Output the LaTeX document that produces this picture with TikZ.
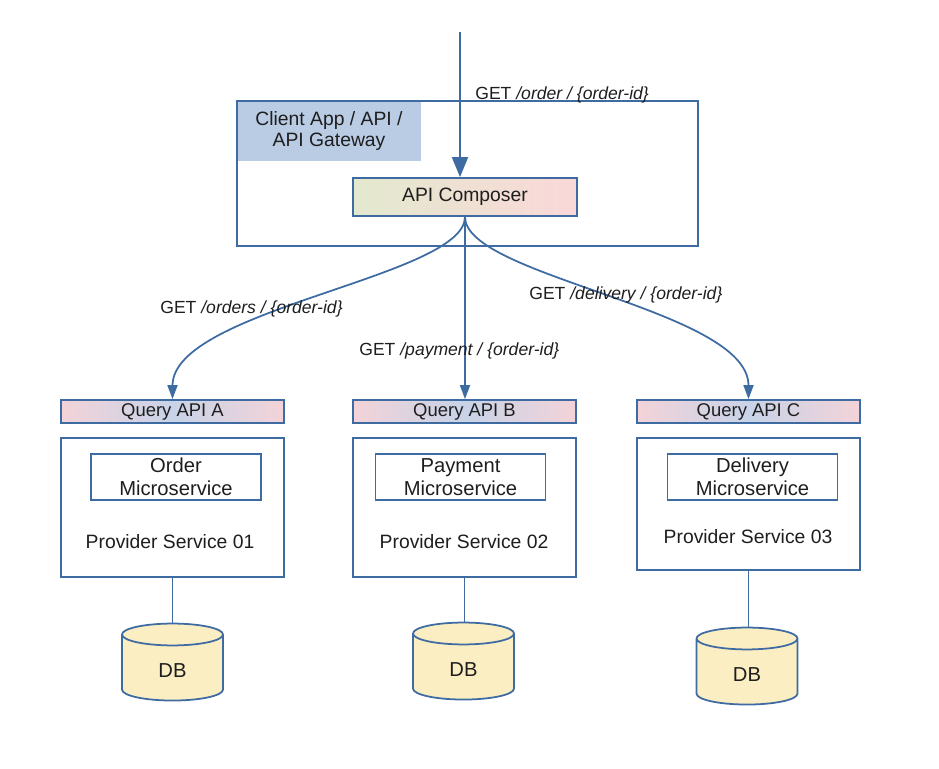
\documentclass[tikz,border=0pt]{standalone}
\usepackage{fontspec}
\setmainfont{Liberation Sans}
\usetikzlibrary{shapes.geometric,arrows.meta}

\definecolor{lineblue}{HTML}{3F6BA3}
\definecolor{clientfill}{HTML}{B9CCE4}
\definecolor{dbfill}{HTML}{FBEEC2}
\definecolor{composerleft}{HTML}{E3E9CE}
\definecolor{composerright}{HTML}{FAD8D8}
\definecolor{queryedge}{HTML}{F3D3D8}
\definecolor{querymid}{HTML}{C8D3E8}
\definecolor{textgray}{HTML}{1E1E1E}

\tikzset{
	box/.style={draw=lineblue, line width=1pt, minimum width=4.46cm, inner sep=0pt},
	querybox/.style={box, minimum height=0.46cm, left color=queryedge, right color=queryedge, middle color=querymid, font=\fontsize{10.5}{12}\selectfont},
	providerbox/.style={box},
	microbox/.style={draw=lineblue, line width=1pt, minimum width=3.4cm, minimum height=0.92cm, align=center, inner sep=0pt, font=\fontsize{11.5}{13}\selectfont},
	dbnode/.style={cylinder, shape border rotate=90, aspect=0.55, draw=lineblue, line width=1pt, fill=dbfill, minimum width=2.02cm, minimum height=1.54cm, font=\fontsize{11.5}{13}\selectfont},
	boxtext/.style={font=\fontsize{11}{13}\selectfont},
	getlabel/.style={anchor=west, inner sep=0pt, font=\fontsize{10}{12}\selectfont},
	arr/.style={draw=lineblue, line width=1pt, -{Triangle[length=0.28cm, width=0.2cm]}},
	bigarr/.style={draw=lineblue, line width=1.1pt, -{Triangle[length=0.4cm, width=0.32cm]}},
	link/.style={draw=lineblue, line width=1.1pt}
}

\begin{document}
\begin{tikzpicture}[x=0.02cm, y=-0.02cm, text=textgray]
	\useasboundingbox (0,0) rectangle (939,768);

	% client app / gateway
	\node[minimum width=9.22cm, minimum height=2.9cm, inner sep=0pt] (client) at (467.5,173.5) {};
	\node[fill=clientfill, minimum width=3.68cm, minimum height=1.2cm, align=center, inner sep=0pt, font=\fontsize{11}{12.5}\selectfont] (clientlbl) at (329,131) {Client App / API /\\API Gateway};
	\draw[link] (client.north west) rectangle (client.south east);
	\node[box, minimum width=4.48cm, minimum height=0.76cm, left color=composerleft, right color=composerright, font=\fontsize{11}{13}\selectfont] (comp) at (465,197) {API Composer};

	\coordinate (in) at (460,32);
	\draw[bigarr] (in) -- (in |- comp.north);
	\node[getlabel] (getorder) at (475,95) {GET \textit{/order / \{order-id\}}};

	% query apis
	\node[querybox] (qa) at (172.5,411.5) {Query API A};
	\node[querybox] (qb) at (464.5,411.5) {Query API B};
	\node[querybox] (qc) at (748.5,411.5) {Query API C};

	\draw[arr] (comp.south) .. controls +(0,60) and +(0,-90) .. (qa.north);
	\draw[arr] (comp.south) -- (comp.south |- qb.north);
	\draw[arr] (comp.south) .. controls +(0,60) and +(0,-90) .. (qc.north);
	\node[getlabel] (getorders) at (160,309) {GET \textit{/orders / \{order-id\}}};
	\node[getlabel] (getpay) at (359,351) {GET \textit{/payment / \{order-id\}}};
	\node[getlabel] (getdel) at (529,295) {GET \textit{/delivery / \{order-id\}}};

	% provider services
	\node[providerbox, minimum height=2.78cm] (pa) at (172.5,507.5) {};
	\node[providerbox, minimum height=2.78cm] (pb) at (464.5,507.5) {};
	\node[providerbox, minimum height=2.64cm] (pc) at (748.5,504) {};
	\node[microbox] (ma) at (176,477) {Order\\Microservice};
	\node[microbox] (mb) at (460.5,477) {Payment\\Microservice};
	\node[microbox] (mc) at (752.5,477) {Delivery\\Microservice};
	\node[boxtext] (psa) at (170,542) {Provider Service 01};
	\node[boxtext] (psb) at (464,542) {Provider Service 02};
	\node[boxtext] (psc) at (748,537) {Provider Service 03};

	% databases
	\node[dbnode] (dba) at (172.5,670.5) {DB};
	\node[dbnode] (dbb) at (463.5,669.5) {DB};
	\node[dbnode] (dbc) at (747,674.5) {DB};
	\draw[link] (pa.south) -- (pa.south |- dba.north);
	\draw[link] (pb.south) -- (pb.south |- dbb.north);
	\draw[link] (pc.south) -- (pc.south |- dbc.north);
\end{tikzpicture}
\end{document}
